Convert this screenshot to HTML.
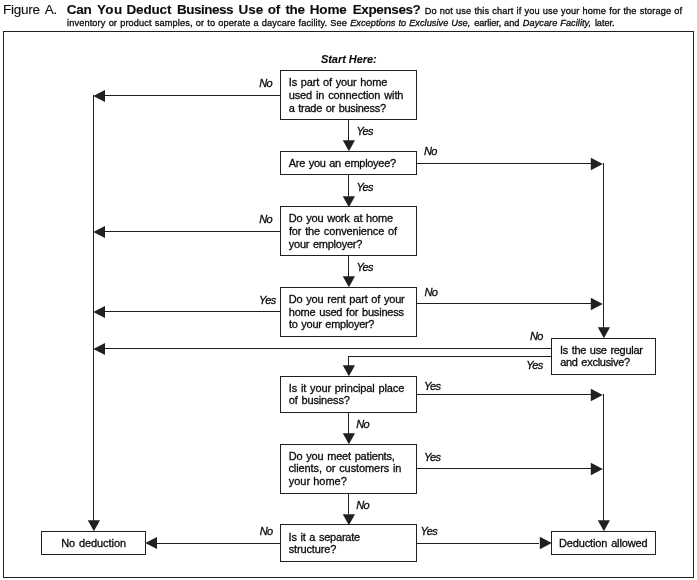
<!DOCTYPE html>
<html><head><meta charset="utf-8"><title>Figure A</title>
<style>
html,body{margin:0;padding:0;background:#fff;}
body{width:697px;height:580px;position:relative;overflow:hidden;font-family:"Liberation Sans",sans-serif;color:#231f20;}
.t{position:absolute;white-space:nowrap;line-height:1;margin:0;padding:0;-webkit-text-stroke:0.3px #0d0b0c;color:#0d0b0c;}
svg{position:absolute;left:0;top:0;}
</style></head><body>
<svg width="697" height="580" viewBox="0 0 697 580">
<rect x="0" y="0" width="697" height="580" fill="#ffffff"/>
<g shape-rendering="crispEdges" stroke="#231f20" stroke-width="1" fill="none">
<rect x="3.5" y="31.5" width="690" height="546"/>
<line x1="348.5" y1="119" x2="348.5" y2="152"/>
<line x1="348.5" y1="174" x2="348.5" y2="207"/>
<line x1="348.5" y1="255" x2="348.5" y2="288"/>
<line x1="348.5" y1="412" x2="348.5" y2="445"/>
<line x1="348.5" y1="493" x2="348.5" y2="525"/>
<line x1="93" y1="95.5" x2="281" y2="95.5"/>
<line x1="93" y1="231.5" x2="281" y2="231.5"/>
<line x1="93" y1="311.5" x2="281" y2="311.5"/>
<line x1="93" y1="348.5" x2="552" y2="348.5"/>
<line x1="93.5" y1="95" x2="93.5" y2="532"/>
<line x1="416" y1="163.5" x2="604" y2="163.5"/>
<line x1="416" y1="303.5" x2="604" y2="303.5"/>
<line x1="603.5" y1="163" x2="603.5" y2="339"/>
<line x1="416" y1="394.5" x2="604" y2="394.5"/>
<line x1="416" y1="468.5" x2="604" y2="468.5"/>
<line x1="603.5" y1="394" x2="603.5" y2="532"/>
<line x1="348" y1="356.5" x2="552" y2="356.5"/>
<line x1="348.5" y1="356" x2="348.5" y2="377"/>
<line x1="145" y1="543.5" x2="281" y2="543.5"/>
<line x1="416" y1="543.5" x2="552" y2="543.5"/>
</g>
<g shape-rendering="crispEdges" stroke="#231f20" stroke-width="1" fill="#ffffff">
<rect x="280.5" y="70.5" width="136" height="49"/>
<rect x="280.5" y="151.5" width="136" height="23"/>
<rect x="280.5" y="206.5" width="136" height="49"/>
<rect x="280.5" y="287.5" width="136" height="49"/>
<rect x="280.5" y="376.5" width="136" height="36"/>
<rect x="280.5" y="444.5" width="136" height="49"/>
<rect x="280.5" y="524.5" width="136" height="37"/>
<rect x="551.5" y="338.5" width="104" height="36"/>
<rect x="41.5" y="531.5" width="104" height="23"/>
<rect x="551.5" y="531.5" width="104" height="23"/>
</g>
<g fill="#ffffff" stroke="none" shape-rendering="crispEdges">
<rect x="348" y="141" width="1" height="10"/>
<rect x="348" y="196" width="1" height="10"/>
<rect x="348" y="277" width="1" height="10"/>
<rect x="348" y="366" width="1" height="10"/>
<rect x="348" y="434" width="1" height="10"/>
<rect x="348" y="514" width="1" height="10"/>
<rect x="94" y="95" width="11" height="1"/>
<rect x="94" y="231" width="11" height="1"/>
<rect x="94" y="311" width="11" height="1"/>
<rect x="94" y="348" width="11" height="1"/>
<rect x="93" y="521" width="1" height="10"/>
<rect x="591" y="163" width="12" height="1"/>
<rect x="591" y="303" width="12" height="1"/>
<rect x="603" y="328" width="1" height="10"/>
<rect x="591" y="394" width="12" height="1"/>
<rect x="591" y="468" width="12" height="1"/>
<rect x="603" y="521" width="1" height="10"/>
<rect x="146" y="543" width="11" height="1"/>
<rect x="539" y="543" width="12" height="1"/>
</g>
<g fill="#231f20" stroke="none">
<polygon points="348.90,151.20 342.80,140.20 355.00,140.20"/>
<polygon points="348.90,207.20 342.80,196.20 355.00,196.20"/>
<polygon points="348.90,287.20 342.80,276.20 355.00,276.20"/>
<polygon points="348.90,376.20 342.80,365.20 355.00,365.20"/>
<polygon points="348.90,444.20 342.80,433.20 355.00,433.20"/>
<polygon points="348.90,525.20 342.80,514.20 355.00,514.20"/>
<polygon points="93.30,95.90 105.00,89.90 105.00,101.90"/>
<polygon points="93.30,231.90 105.00,225.90 105.00,237.90"/>
<polygon points="93.30,311.90 105.00,305.90 105.00,317.90"/>
<polygon points="93.30,348.90 105.00,342.90 105.00,354.90"/>
<polygon points="93.90,531.20 87.80,520.20 100.00,520.20"/>
<polygon points="602.80,163.90 590.80,157.65 590.80,170.15"/>
<polygon points="602.80,303.90 590.80,297.65 590.80,310.15"/>
<polygon points="603.90,338.20 597.80,327.20 610.00,327.20"/>
<polygon points="602.80,394.90 590.80,388.65 590.80,401.15"/>
<polygon points="602.80,468.90 590.80,462.65 590.80,475.15"/>
<polygon points="603.90,531.20 597.80,520.20 610.00,520.20"/>
<polygon points="145.30,542.90 157.00,536.90 157.00,548.90"/>
<polygon points="551.80,542.90 539.80,536.65 539.80,549.15"/>
</g>
</svg>
<div id="txt" style="position:absolute;left:0;top:0;width:697px;height:580px;will-change:transform;">
<div class="t" id="t0" style="font-size:13.5px;top:3px;left:3.04px;word-spacing:2.20px;-webkit-text-stroke-width:0.1px;letter-spacing:-0.264px;">Figure A.</div>
<div class="t" id="t1" style="font-size:13.5px;top:3px;left:66.70px;font-weight:bold;-webkit-text-stroke-width:0.1px;letter-spacing:-0.266px;">Can</div>
<div class="t" id="t2" style="font-size:13.5px;top:3px;left:96.92px;font-weight:bold;-webkit-text-stroke-width:0.1px;letter-spacing:0.390px;">You</div>
<div class="t" id="t3" style="font-size:13.5px;top:3px;left:126.50px;font-weight:bold;-webkit-text-stroke-width:0.1px;letter-spacing:-0.169px;">Deduct</div>
<div class="t" id="t4" style="font-size:13.5px;top:3px;left:177.06px;font-weight:bold;-webkit-text-stroke-width:0.1px;letter-spacing:-0.522px;">Business</div>
<div class="t" id="t5" style="font-size:13.5px;top:3px;left:238.45px;font-weight:bold;-webkit-text-stroke-width:0.1px;letter-spacing:0.056px;">Use</div>
<div class="t" id="t6" style="font-size:13.5px;top:3px;left:267.75px;font-weight:bold;-webkit-text-stroke-width:0.1px;letter-spacing:-0.161px;">of</div>
<div class="t" id="t7" style="font-size:13.5px;top:3px;left:285.49px;font-weight:bold;-webkit-text-stroke-width:0.1px;letter-spacing:-0.403px;">the</div>
<div class="t" id="t8" style="font-size:13.5px;top:3px;left:309.72px;font-weight:bold;-webkit-text-stroke-width:0.1px;letter-spacing:-0.127px;">Home</div>
<div class="t" id="t9" style="font-size:13.5px;top:3px;left:352.76px;font-weight:bold;-webkit-text-stroke-width:0.1px;letter-spacing:-0.398px;">Expenses?</div>
<div class="t" id="t10" style="font-size:9.2px;top:7px;left:424.76px;word-spacing:0.40px;letter-spacing:0.135px;">Do not use this chart if you use your home for the storage of</div>
<div class="t" id="t11" style="font-size:9.2px;top:19px;left:67.06px;word-spacing:0.40px;letter-spacing:0.135px;">inventory or product samples, or to operate a daycare facility. See</div>
<div class="t" id="t12" style="font-size:9.2px;top:19px;left:350.20px;word-spacing:0.40px;font-style:italic;letter-spacing:0.035px;">Exceptions to Exclusive Use,</div>
<div class="t" id="t13" style="font-size:9.2px;top:19px;left:474.20px;word-spacing:0.40px;letter-spacing:-0.067px;">earlier, and</div>
<div class="t" id="t14" style="font-size:9.2px;top:19px;left:522.82px;word-spacing:0.40px;font-style:italic;letter-spacing:0.041px;">Daycare Facility,</div>
<div class="t" id="t15" style="font-size:9.2px;top:19px;left:594.89px;letter-spacing:-0.047px;">later.</div>
<div class="t" id="t16" style="font-size:11px;top:54px;left:320.96px;font-weight:bold;-webkit-text-stroke-width:0.1px;font-style:italic;letter-spacing:-0.049px;">Start Here:</div>
<div class="t" id="t17" style="font-size:11px;top:77px;left:288.80px;word-spacing:0.90px;letter-spacing:-0.151px;">Is part of your home</div>
<div class="t" id="t18" style="font-size:11px;top:90px;left:288.65px;word-spacing:0.90px;letter-spacing:-0.101px;">used in connection with</div>
<div class="t" id="t19" style="font-size:11px;top:103px;left:288.81px;word-spacing:0.90px;letter-spacing:-0.271px;">a trade or business?</div>
<div class="t" id="t20" style="font-size:11px;top:158px;left:288.77px;word-spacing:0.90px;letter-spacing:-0.285px;">Are you an employee?</div>
<div class="t" id="t21" style="font-size:11px;top:213px;left:288.71px;word-spacing:0.90px;letter-spacing:-0.178px;">Do you work at home</div>
<div class="t" id="t22" style="font-size:11px;top:226px;left:288.90px;word-spacing:0.90px;letter-spacing:-0.133px;">for the convenience of</div>
<div class="t" id="t23" style="font-size:11px;top:239px;left:288.74px;word-spacing:0.90px;letter-spacing:-0.233px;">your employer?</div>
<div class="t" id="t24" style="font-size:11px;top:294px;left:288.71px;word-spacing:0.90px;letter-spacing:-0.173px;">Do you rent part of your</div>
<div class="t" id="t25" style="font-size:11px;top:307px;left:288.77px;word-spacing:0.90px;letter-spacing:-0.201px;">home used for business</div>
<div class="t" id="t26" style="font-size:11px;top:319px;left:289.08px;word-spacing:0.90px;letter-spacing:-0.278px;">to your employer?</div>
<div class="t" id="t27" style="font-size:11px;top:383px;left:288.80px;word-spacing:0.90px;letter-spacing:-0.120px;">Is it your principal place</div>
<div class="t" id="t28" style="font-size:11px;top:395px;left:288.69px;word-spacing:0.90px;letter-spacing:-0.129px;">of business?</div>
<div class="t" id="t29" style="font-size:11px;top:451px;left:288.71px;word-spacing:0.90px;letter-spacing:-0.179px;">Do you meet patients,</div>
<div class="t" id="t30" style="font-size:11px;top:463px;left:288.38px;word-spacing:0.90px;letter-spacing:-0.091px;">clients, or customers in</div>
<div class="t" id="t31" style="font-size:11px;top:476px;left:288.74px;">your home?</div>
<div class="t" id="t32" style="font-size:11px;top:532px;left:288.61px;word-spacing:0.90px;letter-spacing:-0.216px;">Is it a separate</div>
<div class="t" id="t33" style="font-size:11px;top:544px;left:288.74px;word-spacing:0.90px;letter-spacing:-0.148px;">structure?</div>
<div class="t" id="t34" style="font-size:11px;top:345px;left:559.94px;word-spacing:0.90px;letter-spacing:-0.273px;">Is the use regular</div>
<div class="t" id="t35" style="font-size:11px;top:357px;left:560.13px;word-spacing:0.90px;letter-spacing:-0.274px;">and exclusive?</div>
<div class="t" id="t36" style="font-size:11px;top:538px;left:61.17px;word-spacing:0.90px;letter-spacing:-0.075px;">No deduction</div>
<div class="t" id="t37" style="font-size:11px;top:538px;left:558.90px;word-spacing:0.90px;letter-spacing:-0.125px;">Deduction allowed</div>
<div class="t" id="t38" style="font-size:11px;top:78px;left:259.24px;font-style:italic;letter-spacing:-0.680px;">No</div>
<div class="t" id="t39" style="font-size:11px;top:126px;left:356.41px;font-style:italic;letter-spacing:-0.627px;">Yes</div>
<div class="t" id="t40" style="font-size:11px;top:146px;left:424.11px;font-style:italic;letter-spacing:-0.680px;">No</div>
<div class="t" id="t41" style="font-size:11px;top:182px;left:356.41px;font-style:italic;letter-spacing:-0.627px;">Yes</div>
<div class="t" id="t42" style="font-size:11px;top:214px;left:259.24px;font-style:italic;letter-spacing:-0.680px;">No</div>
<div class="t" id="t43" style="font-size:11px;top:262px;left:356.41px;font-style:italic;letter-spacing:-0.627px;">Yes</div>
<div class="t" id="t44" style="font-size:11px;top:295px;left:259.08px;font-style:italic;letter-spacing:-0.627px;">Yes</div>
<div class="t" id="t45" style="font-size:11px;top:287px;left:424.45px;font-style:italic;letter-spacing:-0.680px;">No</div>
<div class="t" id="t46" style="font-size:11px;top:331px;left:529.96px;font-style:italic;letter-spacing:-0.680px;">No</div>
<div class="t" id="t47" style="font-size:11px;top:360px;left:526.25px;font-style:italic;letter-spacing:-0.627px;">Yes</div>
<div class="t" id="t48" style="font-size:11px;top:381px;left:423.95px;font-style:italic;letter-spacing:-0.627px;">Yes</div>
<div class="t" id="t49" style="font-size:11px;top:419px;left:356.22px;font-style:italic;letter-spacing:-0.680px;">No</div>
<div class="t" id="t50" style="font-size:11px;top:452px;left:423.95px;font-style:italic;letter-spacing:-0.627px;">Yes</div>
<div class="t" id="t51" style="font-size:11px;top:500px;left:356.15px;font-style:italic;letter-spacing:-0.680px;">No</div>
<div class="t" id="t52" style="font-size:11px;top:526px;left:259.85px;font-style:italic;letter-spacing:-0.680px;">No</div>
<div class="t" id="t53" style="font-size:11px;top:526px;left:420.60px;font-style:italic;letter-spacing:-0.627px;">Yes</div>
</div>
</body></html>
